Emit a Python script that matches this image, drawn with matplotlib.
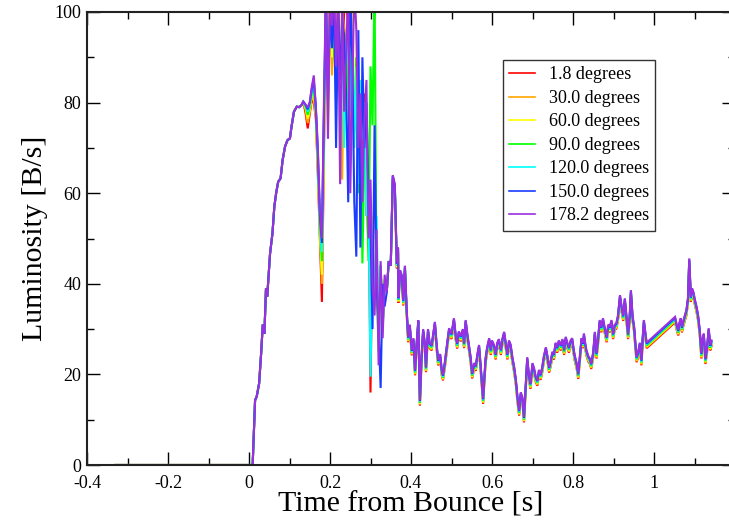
import numpy as np
import matplotlib
matplotlib.use('Agg')
import matplotlib.pyplot as plt
from matplotlib.ticker import MultipleLocator, FuncFormatter

''' Figure format (xmgrace look) '''
plt.rc('font', size=10, family='Liberation Serif')
plt.rcParams['xtick.direction'] = 'in'
plt.rcParams['ytick.direction'] = 'in'
plt.rcParams['xtick.top'] = True
plt.rcParams['ytick.right'] = True

''' Data read off the picture '''
labels = ['1.8 degrees', '30.0 degrees', '60.0 degrees', '90.0 degrees',
          '120.0 degrees', '150.0 degrees', '178.2 degrees']
colors = ['#ff0000', '#ffa500', '#ffff00', '#00ff00', '#00ffff', '#1a3cff', '#9b30e0']

# common rise before the tangle
early_t = [-0.33, 0.009, 0.015, 0.019, 0.025, 0.030, 0.034, 0.038, 0.042, 0.045, 0.052,
           0.058, 0.0625, 0.067, 0.072, 0.078, 0.083, 0.089, 0.095, 0.101, 0.105, 0.111,
           0.118, 0.124, 0.130, 0.134]
early_v = [0, 0, 14.3, 15.1, 18, 24.7, 31, 29, 39, 37.2, 46.7, 51.2, 57, 60, 62.5, 63.3,
           67.3, 70.3, 71.7, 72.1, 74.7, 78, 79.1, 79, 79.5, 80.2]

# per-angle values in the tangled part, 0.140 .. 0.350 s every 5 ms
win_t = np.round(np.arange(0.140, 0.3501, 0.005), 3)
win_red = [77.5, 74.3, 77.5, 80.5, 80, 76.5, 64, 50,
           36, 68, 104, 82, 104, 100, 92, 86, 104, 85, 90, 100, 104, 96, 68, 84, 80, 75,
           70, 66, 60, 82, 55, 64, 16, 50, 35, 48, 28, 44, 31, 40, 38, 45, 44]
win_orange = [78.3, 75.5, 78, 81, 81, 77, 65, 51,
              40, 70, 100, 76, 102, 86, 104, 82, 98, 84, 63, 92, 96, 100, 70, 88, 84, 78,
              72, 76, 62, 70, 60, 48, 50, 42, 36, 48, 28, 44, 30, 40, 38, 45, 44]
win_yellow = [78.7, 76.5, 78.5, 81.5, 82, 77.5, 66, 52,
              42, 72, 98, 73.5, 100, 90, 104, 80, 95, 88, 100, 80, 85, 100, 75, 104, 80, 85,
              68, 72, 60, 66, 58, 52, 45, 55, 34, 50, 30, 44, 33, 40, 38, 45, 44]
win_green = [79, 77.3, 79, 82, 83, 78, 67, 53,
             45, 75, 100, 88, 96, 98, 92, 84, 100, 80, 95, 88, 76, 100, 82, 88, 74, 90,
             60, 78, 44.5, 70, 62, 45, 88, 75, 106, 40, 25, 44, 32, 41, 38, 45, 44]
win_cyan = [79.3, 78, 79.5, 82.5, 84, 78.5, 68, 54,
            47, 76, 102, 85, 98, 95, 100, 80, 96, 82, 100, 70, 88, 95, 78, 92, 70, 88,
            62, 85, 72, 80, 55, 60, 19.5, 48, 35, 55, 28, 44, 30, 40, 38, 45, 44]
win_blue = [79.5, 78.5, 80, 83, 85, 79, 69, 55,
            49, 78, 104, 80, 100, 92, 104, 70, 101, 85, 98, 95, 82, 58, 104, 90, 58, 46,
            96, 48, 90, 70, 80, 60, 52, 30, 75, 40, 30, 17, 40, 35, 38, 45, 44]
win_purple = [79.5, 79, 80, 83.5, 86, 79, 70, 56,
              50, 80, 106, 72, 104, 97, 106, 88, 104, 62, 104, 78, 90, 106, 60, 83, 106, 96,
              70, 82, 58, 76, 85, 50, 63, 40, 33, 52, 22, 45, 28, 42, 38, 45, 44]
win_v = [win_red, win_orange, win_yellow, win_green, win_cyan, win_blue, win_purple]

# common late-time curve (purple), the other angles sit slightly below it
late_t = [0.355, 0.360, 0.365, 0.368, 0.369, 0.373, 0.377, 0.381, 0.385, 0.389, 0.393,
          0.397, 0.402, 0.406, 0.410, 0.414, 0.418, 0.422, 0.426, 0.430, 0.434, 0.437,
          0.442, 0.446, 0.451, 0.455, 0.459, 0.463, 0.467, 0.472, 0.476, 0.479, 0.484,
          0.488, 0.494, 0.500, 0.506, 0.510, 0.514, 0.518, 0.523, 0.528, 0.531, 0.535,
          0.539, 0.543, 0.547, 0.551, 0.556, 0.560, 0.564, 0.568, 0.572, 0.578, 0.581,
          0.584, 0.588, 0.593, 0.597, 0.600, 0.605, 0.609, 0.613, 0.617, 0.622, 0.626,
          0.630, 0.634, 0.638, 0.642, 0.646, 0.650, 0.655, 0.659, 0.663, 0.667, 0.671,
          0.675, 0.679, 0.683, 0.687, 0.691, 0.695, 0.700, 0.704, 0.708, 0.712, 0.716,
          0.720, 0.724, 0.728, 0.733, 0.737, 0.741, 0.745, 0.749, 0.753, 0.757, 0.761,
          0.765, 0.770, 0.774, 0.778, 0.782, 0.786, 0.790, 0.794, 0.798, 0.801, 0.804,
          0.809, 0.813, 0.817, 0.821, 0.825, 0.827, 0.830, 0.833, 0.838, 0.842, 0.845,
          0.850, 0.854, 0.858, 0.862, 0.866, 0.870, 0.874, 0.879, 0.883, 0.887, 0.891,
          0.895, 0.899, 0.903, 0.907, 0.911, 0.916, 0.920, 0.924, 0.928, 0.932, 0.936,
          0.940, 0.943, 0.947, 0.951, 0.954, 0.957, 0.961, 0.965, 0.969, 0.972, 0.975,
          0.979, 0.982,
          1.052, 1.056, 1.060, 1.063, 1.066, 1.069, 1.072, 1.076, 1.080, 1.084, 1.087,
          1.091, 1.094, 1.097, 1.101, 1.105, 1.109, 1.113, 1.117, 1.120, 1.123, 1.127,
          1.131, 1.135, 1.139, 1.142]
late_v = [64, 62, 44.6, 48, 37, 43, 42, 36.4, 44, 35, 28.3,
          31, 25.4, 28, 21, 27, 32, 14.3, 24, 30, 27, 21.7,
          30, 27, 26.5, 29, 31.6, 27, 23.2, 24.5, 21, 19.9, 23,
          26, 30.2, 29, 32.4, 29, 26.9, 29.5, 28.5, 30, 27, 32,
          29, 26.5, 24, 20.3, 22.5, 22, 24.5, 26.5, 22, 14.7, 19,
          23.5, 26, 28, 25.5, 27.5, 26.5, 24.5, 27, 27.8, 25.5, 28,
          29.4, 27, 24.5, 27.5, 26.6, 24, 21.5, 18.8, 15, 12.1, 16,
          15, 10.6, 17, 23.8, 20, 18, 22.5, 21.3, 19.5, 18.7, 21,
          20, 21.6, 24, 26, 24, 21.6, 23, 25, 24.5, 27, 26,
          27.5, 26.5, 27.8, 25.5, 28.3, 27, 26, 27.5, 28, 26, 24.3,
          22.5, 20.2, 24, 28, 27, 29, 27, 25.4, 24, 23.5, 22.4,
          25, 29.4, 24.7, 28, 32, 30.5, 32.4, 30, 28.3, 31, 30.5,
          32, 29, 31, 31.3, 33, 37.5, 35, 33, 36.8, 33, 29,
          33, 38.6, 33, 30.5, 27, 23.9, 25, 27, 23.2, 28, 32,
          29, 27,
          32.7, 31, 29.8, 31.5, 32.4, 30.5, 31.7, 33, 34.2, 37, 45.6,
          37.2, 39, 38.3, 36.5, 35, 33, 29.8, 24.7, 28, 29, 23.5,
          26, 30.2, 26.5, 27.5]
late_offset = [-1.2, -1.0, -0.8, -0.6, -0.4, -0.2, 0.0]

''' Plot '''
fig = plt.figure(figsize=(7.29, 5.21), dpi=100)
ax = fig.add_axes([87 / 729, 56 / 521, 648 / 729, 453 / 521])

for k in range(len(labels)):
    t = list(early_t) + list(win_t) + list(late_t)
    v = list(early_v) + list(win_v[k]) + [x + late_offset[k] for x in late_v]
    ax.plot(t, v, color=colors[k], lw=1.5, label=labels[k], solid_joinstyle='miter')

ax.set_xlim(-0.4, 1.2)
ax.set_ylim(0, 100)
ax.xaxis.set_major_locator(MultipleLocator(0.2))
ax.xaxis.set_minor_locator(MultipleLocator(0.1))
ax.yaxis.set_major_locator(MultipleLocator(20))
ax.yaxis.set_minor_locator(MultipleLocator(10))
# the 1.2 label falls outside the cropped picture
ax.xaxis.set_major_formatter(FuncFormatter(lambda x, p: '' if x > 1.1 else '%g' % round(x, 2)))
ax.tick_params(which='major', length=9.5, width=1.0, labelsize=13, pad=4)
ax.tick_params(axis='x', which='major', pad=7)
ax.tick_params(which='minor', length=4.8, width=1.0)
for s in ax.spines.values():
    s.set_linewidth(1.5)
    s.set_color('#222222')

ax.set_xlabel('Time from Bounce [s]', fontsize=21.5, labelpad=0)
ax.set_ylabel('Luminosity [B/s]', fontsize=21.5, labelpad=5)

leg = ax.legend(loc='upper left', bbox_to_anchor=(503 / 729, 1 - 60 / 521),
                bbox_transform=fig.transFigure, fontsize=13, frameon=True,
                fancybox=False, borderpad=0.35, labelspacing=0.36, handlelength=1.4,
                handletextpad=0.8, borderaxespad=0)
leg.get_frame().set_edgecolor('k')
leg.get_frame().set_linewidth(1.0)
for h in leg.get_lines():
    h.set_linewidth(1.2)

fig.savefig('out.png', dpi=100)
